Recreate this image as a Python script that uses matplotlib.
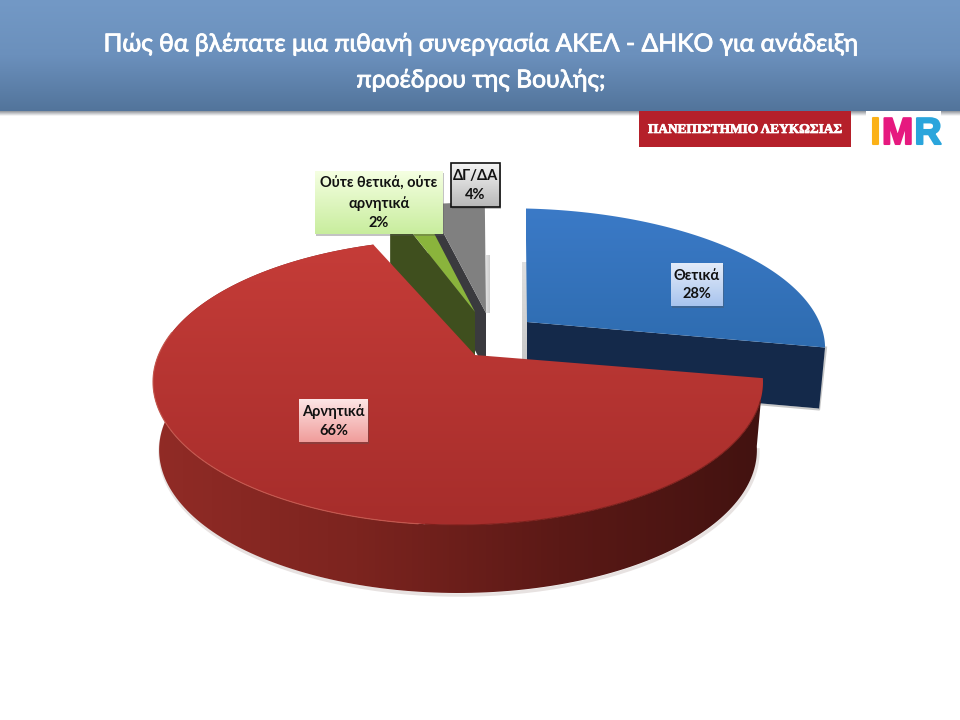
import matplotlib
matplotlib.use('Agg')
import matplotlib.pyplot as plt
import numpy as np
from matplotlib.colors import LinearSegmentedColormap
from matplotlib.patches import Polygon, Rectangle
import matplotlib.patheffects as pe

# data
slice_names = ['Θετικά', 'Αρνητικά', 'Ούτε θετικά, ούτε\nαρνητικά', 'ΔΓ/ΔΑ']
slice_values = [28, 66, 2, 4]
title_lines = ['Πώς θα βλέπατε μια πιθανή συνεργασία ΑΚΕΛ - ΔΗΚΟ για ανάδειξη',
               'προέδρου της Βουλής;']
university = 'ΠΑΝΕΠΙΣΤΗΜΙΟ ΛΕΥΚΩΣΙΑΣ'

# pie projection: rim ellipse and where the centre of the disc lands on it
EX, EY, RA, RB = 458, 382, 305, 143
APEX = (475, 355)
P = complex((APEX[0] - EX) / RA, (APEX[1] - EY) / RB)
W = P / (1 + np.sqrt(1 - abs(P) ** 2))

plt.rcParams['font.family'] = ['Lato', 'DejaVu Sans']

fig = plt.figure(figsize=(9.6, 7.2), dpi=100, facecolor='white')
ax = fig.add_axes([0, 0, 1, 1])
ax.set_xlim(0, 960)
ax.set_ylim(720, 0)
ax.axis('off')


def gradient(verts, colors, z, horizontal=False):
    # fill a polygon with a linear gradient, clipped to its outline
    verts = np.asarray(verts)
    x0, x1 = verts[:, 0].min(), verts[:, 0].max()
    y0, y1 = verts[:, 1].min(), verts[:, 1].max()
    cmap = LinearSegmentedColormap.from_list('g', colors)
    ramp = np.linspace(0, 1, 256)
    ramp = ramp.reshape(1, -1) if horizontal else ramp.reshape(-1, 1)
    im = ax.imshow(ramp, cmap=cmap, extent=[x0, x1, y1, y0], aspect='auto', zorder=z)
    patch = Polygon(verts, closed=True, transform=ax.transData, fc='none', ec='none')
    ax.add_patch(patch)
    im.set_clip_path(patch)
    ax.set_xlim(0, 960)
    ax.set_ylim(720, 0)


def rim(theta, dx, dy, sx, sy, turn=0):
    # point on the outer edge of a slice, theta clockwise from 12 o'clock
    z = np.exp(1j * np.radians(theta + turn - 90))
    m = (z + W) / (1 + np.conj(W) * z)
    x = EX + RA * m.real
    y = EY + RB * m.imag
    return APEX[0] + dx + sx * (x - APEX[0]), APEX[1] + dy + sy * (y - APEX[1])


def label(x0, y0, x1, y1, text, colors, z=30, edge=None):
    ax.add_patch(Rectangle((x0 + 1, y0 + 2), x1 - x0, y1 - y0, fc='#555555', alpha=0.35, ec='none', zorder=z))
    gradient([(x0, y0), (x1, y0), (x1, y1), (x0, y1)], colors, z + 1)
    if edge:
        ax.add_patch(Rectangle((x0, y0), x1 - x0, y1 - y0, fc='none', ec=edge, lw=1.2, zorder=z + 2))
    ax.text((x0 + x1) / 2, (y0 + y1) / 2 + 0.5, text, ha='center', va='center', fontsize=10.5,
            fontweight='bold', color='#111111', linespacing=1.45, zorder=z + 3)


# slice angles from the values
total = sum(slice_values)
edges = np.concatenate([[0], np.cumsum(slice_values)]) * 360.0 / total
arcs = [np.linspace(edges[i], edges[i + 1], 200) for i in range(len(slice_values))]

# explode offset and perspective scale of each slice
blue_pos = (52, -33, 1.035, 0.98)
red_pos = (0, 0, 1.0, 1.0, -1.2)
green_pos = (0, -43, 0.88, 0.96)
grey_pos = (11, -42, 0.89, 0.95)

# blue slice
bx, by = rim(arcs[0], *blue_pos)
ax_b, ay_b = APEX[0] + blue_pos[0], APEX[1] + blue_pos[1]
gradient([(ax_b - 5, 262), (ax_b, 262), (ax_b, 362), (ax_b - 5, 362)], ['#e0e0e0', '#c8c8c8'], 2)
bottom_x = ax_b + 0.98 * (bx[-1] - ax_b)
ax.plot([ax_b, bottom_x, bx[-1] + 1], [ay_b + 62, by[-1] + 62, by[-1]], color='#c8c8c8', lw=1.5, zorder=2)
ax.add_patch(Polygon([(ax_b, ay_b), (bx[-1], by[-1]), (bottom_x, by[-1] + 61), (ax_b, ay_b + 61)],
                     fc='#14294a', ec='none', zorder=3))
gradient(np.vstack([[(ax_b, ay_b)], np.c_[bx, by]]), ['#3b7ac7', '#2e6cb0'], 4)

# grey slice
gx, gy = rim(arcs[3], *grey_pos)
ax_g, ay_g = APEX[0] + grey_pos[0], APEX[1] + grey_pos[1]
gradient([(ax_g, 255), (ax_g + 4, 255), (ax_g + 4, 313), (ax_g, 313)], ['#e0e0e0', '#cccccc'], 5, horizontal=True)
ax.add_patch(Polygon([(ax_g, ay_g), (gx[0], gy[0]), (gx[0], gy[0] + 58), (ax_g, ay_g + 58)],
                     fc='#3a3a3e', ec='none', zorder=6))
ax.add_patch(Polygon(np.vstack([[(ax_g, ay_g)], np.c_[gx, gy]]), fc='#808080', ec='none', zorder=7))

# green slice
nx, ny = rim(arcs[2], *green_pos)
ax_n, ay_n = APEX[0] + green_pos[0], APEX[1] + green_pos[1]
ax.add_patch(Polygon([(ax_n, ay_n), (nx[0], ny[0]), (nx[0], ny[0] + 58), (ax_n, ay_n + 58)],
                     fc='#3f4f1e', ec='none', zorder=8))
ax.add_patch(Polygon(np.vstack([[(ax_n, ay_n)], np.c_[nx, ny]]), fc='#8ab43c', ec='none', zorder=9))

# red slice
rx, ry = rim(arcs[1], *red_pos)
low_x = EX + 0.98 * (rx - EX)
low_y = ry + 68
ax.plot(low_x + 1, low_y + 2, color='#d8cfcd', lw=2.5, alpha=0.6, zorder=10, solid_capstyle='butt')
side = np.vstack([np.c_[rx, ry], np.c_[low_x, low_y][::-1]])
gradient(side, ['#912b26', '#7c241f', '#5b1916', '#421210'], 11, horizontal=True)
gradient(np.vstack([[APEX], np.c_[rx, ry]]), ['#c53c38', '#a62d2b'], 12)
left_front = (arcs[1] > 190) & (arcs[1] < 280)
right_front = (arcs[1] > 110) & (arcs[1] <= 190)
ax.plot(rx[left_front], ry[left_front], color='#c4574e', lw=0.8, zorder=13)
ax.plot(rx[right_front], ry[right_front], color='#7c1f1b', lw=0.8, zorder=13)

# header band
gradient([(0, 111), (960, 111), (960, 116), (0, 116)], ['#8d9299', '#ffffff'], 20)
gradient([(0, 0), (960, 0), (960, 111), (0, 111)], ['#7399c6', '#6b90bc', '#52749b'], 21)
for y, line in zip([44, 80], title_lines):
    ax.text(481, y, line, ha='center', va='center', fontsize=17.8, color='white', zorder=22,
            path_effects=[pe.withStroke(linewidth=0.6, foreground='white')])

# logos
ax.add_patch(Rectangle((639, 111), 212, 36, fc='#b5202a', ec='none', zorder=23))
ax.text(745.5, 130, university, ha='center', va='center', fontsize=9.6, fontweight='bold',
        family='Liberation Serif', color='white', zorder=24,
        path_effects=[pe.withStroke(linewidth=0.5, foreground='white')])
ax.add_patch(Rectangle((866, 111), 75, 39, fc='white', ec='none', zorder=23))
for x, letter, colour in zip([870, 882, 914.5], 'IMR', ['#fbb117', '#e6197f', '#2aa5dc']):
    ax.text(x, 144, letter, ha='left', va='baseline', fontsize=27, fontweight='bold',
            family='Liberation Sans', color=colour, zorder=24,
            path_effects=[pe.withStroke(linewidth=1.5, foreground=colour)])

# value labels
texts = [f'{n}\n{v}%' for n, v in zip(slice_names, slice_values)]
label(671, 263, 723, 306, texts[0], ['#e4ecf9', '#a8c4ee'])
label(299, 399, 368, 442, texts[1], ['#fde6e6', '#f09c9a'])
label(315, 171, 443, 234, texts[2], ['#f5ffe2', '#c8ed9d'])
label(451, 163, 500, 207, texts[3], ['#f4f4f4', '#b8b8b8'], edge='#111111')

fig.savefig('out.png', dpi=100)
